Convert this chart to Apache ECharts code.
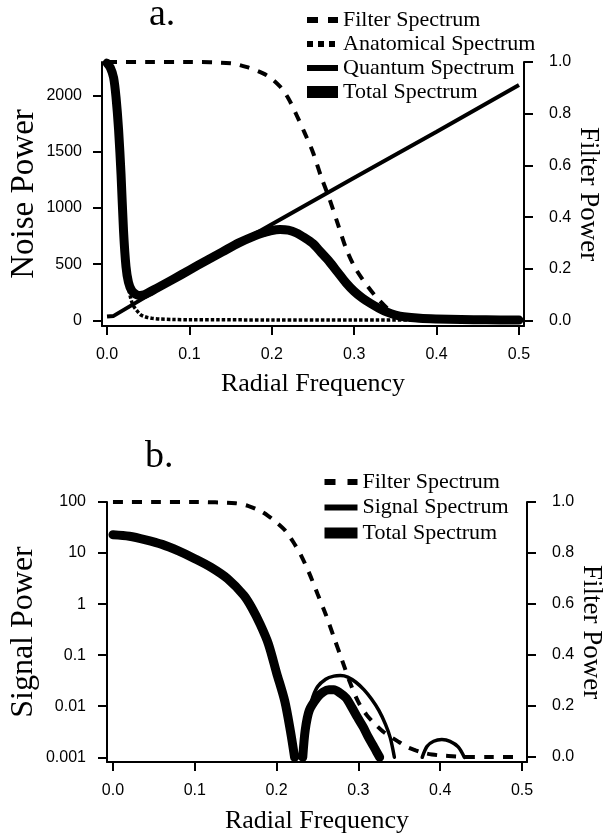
<!DOCTYPE html>
<html>
<head>
<meta charset="utf-8">
<script src="https://cdn.jsdelivr.net/npm/echarts@6.0.0/dist/echarts.min.js"></script>
<style>
  html, body { margin: 0; padding: 0; background: #fff; }
  #main { width: 605px; height: 840px; }
</style>
</head>
<body>
<div id="main"></div>
<script>
// ---- panel a : noise power spectra ----
var freqFilterA = [0, 0.05, 0.1, 0.15, 0.17, 0.19, 0.2, 0.21, 0.22, 0.23, 0.24, 0.25, 0.26, 0.27, 0.28, 0.29, 0.3, 0.31, 0.32, 0.33, 0.34, 0.35, 0.36, 0.37, 0.38, 0.4, 0.45, 0.5];
var filterA = [1, 1, 1, 0.995, 0.98, 0.955, 0.935, 0.905, 0.86, 0.795, 0.725, 0.65, 0.555, 0.47, 0.375, 0.28, 0.21, 0.16, 0.117, 0.08, 0.048, 0.022, 0.008, 0.003, 0.001, 0, 0, 0];

var freqAnatA = [0, 0.004, 0.008, 0.011, 0.014, 0.017, 0.02, 0.023, 0.026, 0.029, 0.032, 0.036, 0.04, 0.044, 0.048, 0.055, 0.064, 0.08, 0.1, 0.2, 0.3, 0.4, 0.5];
var anatA = [2260, 2215, 2125, 1940, 1660, 1260, 760, 440, 300, 190, 130, 89, 55, 38, 28, 18, 12, 8, 6, 4, 3, 3, 2];

var freqQuantA = [0, 0.008, 0.1, 0.2, 0.3, 0.4, 0.5];
var quantA = [35, 40, 440, 855, 1270, 1680, 2095];

var freqTotalA = [0, 0.004, 0.008, 0.011, 0.014, 0.017, 0.02, 0.023, 0.026, 0.03, 0.035, 0.04, 0.045, 0.05, 0.06, 0.08, 0.1, 0.12, 0.14, 0.16, 0.18, 0.19, 0.2, 0.21, 0.22, 0.23, 0.24, 0.25, 0.26, 0.27, 0.28, 0.29, 0.3, 0.31, 0.32, 0.33, 0.34, 0.35, 0.36, 0.38, 0.4, 0.43, 0.46, 0.5];
var totalA = [2290, 2250, 2160, 1980, 1700, 1300, 800, 480, 340, 265, 232, 222, 228, 245, 285, 365, 448, 530, 610, 690, 755, 780, 800, 808, 803, 778, 735, 683, 603, 522, 428, 335, 258, 198, 150, 108, 73, 48, 32, 18, 12, 7, 5, 3];

// ---- panel b : signal power spectra (left axis is log scale) ----
var freqFilterB = [0, 0.05, 0.1, 0.15, 0.165, 0.18, 0.19, 0.2, 0.21, 0.22, 0.23, 0.24, 0.25, 0.26, 0.27, 0.28, 0.29, 0.3, 0.31, 0.32, 0.33, 0.34, 0.35, 0.36, 0.37, 0.38, 0.39, 0.4, 0.41, 0.42, 0.43, 0.46, 0.49];
var filterB = [1, 1, 1, 0.995, 0.985, 0.965, 0.945, 0.92, 0.89, 0.845, 0.79, 0.72, 0.64, 0.56, 0.47, 0.38, 0.29, 0.215, 0.165, 0.13, 0.1, 0.078, 0.058, 0.038, 0.026, 0.016, 0.01, 0.006, 0.004, 0.002, 0, 0, 0];

var freqSignalB = [0, 0.02, 0.04, 0.06, 0.08, 0.1, 0.12, 0.14, 0.16, 0.17, 0.18, 0.19, 0.2, 0.21, 0.217, 0.222, 0.227,
    0.232, 0.236, 0.243, 0.25, 0.26, 0.27, 0.278, 0.287, 0.297, 0.307, 0.316, 0.325, 0.333, 0.339, 0.344, 0.36,
    0.378, 0.384, 0.392, 0.402, 0.412, 0.422, 0.4295];
var signalB = [22.9, 21.4, 18.2, 14.8, 11.0, 7.76, 5.25, 3.16, 1.5, 0.85, 0.42, 0.176, 0.049, 0.0142, 0.0037, 0.001, null,
    0.001, 0.0042, 0.013, 0.024, 0.0339, 0.0389, 0.0398, 0.0372, 0.0295, 0.0209, 0.0138, 0.0083, 0.00447, 0.0024, 0.001, null,
    0.001, 0.00164, 0.00206, 0.00222, 0.00206, 0.0016, 0.001];

var freqTotalB = [0, 0.02, 0.04, 0.06, 0.08, 0.1, 0.12, 0.14, 0.16, 0.17, 0.18, 0.19, 0.2, 0.21, 0.217, 0.222, 0.227,
    0.232, 0.235, 0.24, 0.25, 0.257, 0.264, 0.27, 0.278, 0.285, 0.292, 0.299, 0.306, 0.312, 0.318, 0.322, 0.326];
var totalB = [22.9, 21.4, 18.2, 14.8, 11.0, 7.76, 5.25, 3.16, 1.48, 0.83, 0.40, 0.166, 0.045, 0.0126, 0.0032, 0.001, null,
    0.001, 0.0034, 0.0083, 0.015, 0.019, 0.021, 0.021, 0.018, 0.0145, 0.0095, 0.006, 0.0039, 0.0025, 0.0017, 0.0013, 0.001];

// tick values
var freqTicks = [0, 0.1, 0.2, 0.3, 0.4, 0.5];
var noiseTicks = [0, 500, 1000, 1500, 2000];
var filterTicks = [0, 0.2, 0.4, 0.6, 0.8, 1.0];
var signalTicks = [0.001, 0.01, 0.1, 1, 10, 100];

var serif = 'Liberation Serif';
var sans = 'Liberation Sans';

function pairs(xs, ys) {
    return xs.map(function (x, i) { return [x, ys[i] == null ? '-' : ys[i]]; });
}
function logPairs(xs, ys) {
    return xs.map(function (x, i) { return [x, ys[i] == null ? '-' : Math.log10(ys[i])]; });
}
var logTicks = signalTicks.map(function (v) { return Math.log10(v); });

function axis(extra) {
    var base = {
        type: 'value',
        splitLine: { show: false },
        axisLine: { show: true, onZero: false, lineStyle: { color: '#000', width: 2 } },
        axisTick: { show: true, length: 9, lineStyle: { color: '#000', width: 2 } },
        axisLabel: { color: '#000', fontFamily: sans, fontSize: 16 },
        nameTextStyle: { color: '#000', fontFamily: serif, fontSize: 26 },
        nameLocation: 'middle',
        nameMoveOverlap: false
    };
    for (var k in extra) {
        if (typeof extra[k] === 'object' && base[k] && !Array.isArray(extra[k])) {
            base[k] = Object.assign({}, base[k], extra[k]);
        } else {
            base[k] = extra[k];
        }
    }
    return base;
}
function fixed1(v) { return v.toFixed(1); }

var myChart = echarts.init(document.getElementById('main'));

var option = {
    animation: false,
    backgroundColor: '#fff',
    title: [
        { text: 'a.', left: 149, top: -4, padding: 0, textStyle: { fontFamily: serif, fontSize: 38, fontWeight: 'normal', color: '#000' } },
        { text: 'b.', left: 145, top: 438, padding: 0, textStyle: { fontFamily: serif, fontSize: 38, fontWeight: 'normal', color: '#000' } }
    ],
    legend: [
        {
            left: 301, top: 9, orient: 'vertical', selectedMode: false,
            itemWidth: 31, itemHeight: 14, itemGap: 2, padding: 0,
            textStyle: { fontFamily: serif, fontSize: 22, color: '#000' },
            data: [
                { name: 'Filter Spectrum', itemStyle: { opacity: 0 }, lineStyle: { width: 6, type: [11, 10], cap: 'butt' } },
                { name: 'Anatomical Spectrum', itemStyle: { opacity: 0 }, lineStyle: { width: 6, type: [6, 5], cap: 'butt' } },
                { name: 'Quantum Spectrum', itemStyle: { opacity: 0 }, lineStyle: { width: 6, type: 'solid', cap: 'butt' } },
                { name: 'Total Spectrum', itemStyle: { opacity: 0 }, lineStyle: { width: 12, type: 'solid', cap: 'butt' } }
            ]
        },
        {
            left: 319, top: 471, orient: 'vertical', selectedMode: false,
            itemWidth: 33, itemHeight: 14, itemGap: 3.5, padding: 0,
            textStyle: { fontFamily: serif, fontSize: 22, color: '#000' },
            data: [
                { name: 'Filter Spectrum', itemStyle: { opacity: 0 }, lineStyle: { width: 6, type: [11, 12], cap: 'butt' } },
                { name: 'Signal Spectrum', itemStyle: { opacity: 0 }, lineStyle: { width: 6, type: 'solid', cap: 'butt' } },
                { name: 'Total Spectrum', itemStyle: { opacity: 0 }, lineStyle: { width: 11, type: 'solid', cap: 'butt' } }
            ]
        }
    ],
    grid: [
        { left: 102, right: 81, top: 62, height: 264, outerBoundsMode: 'none' },
        { left: 107, right: 78, top: 502, height: 260, outerBoundsMode: 'none' }
    ],
    xAxis: [
        axis({
            gridIndex: 0, min: -0.0061, max: 0.5061,
            name: 'Radial Frequency', nameGap: 45,
            axisTick: { customValues: freqTicks },
            axisLabel: { customValues: freqTicks, margin: 21, formatter: fixed1 }
        }),
        axis({
            gridIndex: 1, min: -0.0073, max: 0.5061,
            name: 'Radial Frequency', nameGap: 46,
            axisTick: { customValues: freqTicks },
            axisLabel: { customValues: freqTicks, margin: 21, formatter: fixed1 }
        })
    ],
    yAxis: [
        axis({
            gridIndex: 0, position: 'left', min: -50, max: 2300,
            name: 'Noise Power', nameGap: 61,
            nameTextStyle: { fontSize: 33 },
            axisTick: { customValues: noiseTicks },
            axisLabel: { customValues: noiseTicks, margin: 20, formatter: function (v) { return String(v); } }
        }),
        axis({
            gridIndex: 0, position: 'right', min: -0.021, max: 1.0,
            name: 'Filter Power', nameGap: 51, nameRotate: -90,
            nameTextStyle: { fontSize: 27 },
            axisTick: { customValues: filterTicks },
            axisLabel: { customValues: filterTicks, margin: 25, formatter: fixed1 }
        }),
        axis({
            gridIndex: 1, position: 'left', min: -3.092, max: 2,
            name: 'Signal Power', nameGap: 67,
            nameTextStyle: { fontSize: 32 },
            axisTick: { customValues: logTicks },
            axisLabel: {
                customValues: logTicks, margin: 21,
                formatter: function (v) {
                    var p = Math.round(v);
                    return p >= 0 ? String(Math.pow(10, p)) : Math.pow(10, p).toFixed(-p);
                }
            }
        }),
        axis({
            gridIndex: 1, position: 'right', min: -0.0197, max: 1.0,
            name: 'Filter Power', nameGap: 51, nameRotate: -90,
            nameTextStyle: { fontSize: 27 },
            axisTick: { customValues: filterTicks },
            axisLabel: { customValues: filterTicks, margin: 25, formatter: fixed1 }
        })
    ],
    series: [
        {
            name: 'Filter Spectrum', type: 'line', xAxisIndex: 0, yAxisIndex: 1,
            data: pairs(freqFilterA, filterA), symbol: 'none', clip: false, smooth: 0.3,
            lineStyle: { color: '#000', width: 4, type: [10, 9] }
        },
        {
            name: 'Anatomical Spectrum', type: 'line', xAxisIndex: 0, yAxisIndex: 0,
            data: pairs(freqAnatA, anatA), symbol: 'none', clip: false, smooth: 0.3,
            lineStyle: { color: '#000', width: 3.5, type: [3.5, 2] }
        },
        {
            name: 'Quantum Spectrum', type: 'line', xAxisIndex: 0, yAxisIndex: 0,
            data: pairs(freqQuantA, quantA), symbol: 'none', clip: false,
            lineStyle: { color: '#000', width: 4 }
        },
        {
            name: 'Total Spectrum', type: 'line', xAxisIndex: 0, yAxisIndex: 0,
            data: pairs(freqTotalA, totalA), symbol: 'none', clip: false, smooth: 0.3,
            lineStyle: { color: '#000', width: 9, cap: 'round', join: 'round' }
        },
        {
            name: 'Filter Spectrum', type: 'line', xAxisIndex: 1, yAxisIndex: 3,
            data: pairs(freqFilterB, filterB), symbol: 'none', clip: false, smooth: 0.3,
            lineStyle: { color: '#000', width: 4, type: [10, 9] }
        },
        {
            name: 'Signal Spectrum', type: 'line', xAxisIndex: 1, yAxisIndex: 2,
            data: logPairs(freqSignalB, signalB), symbol: 'none', clip: false, smooth: 0.3,
            lineStyle: { color: '#000', width: 3.5, cap: 'round', join: 'round' }
        },
        {
            name: 'Total Spectrum', type: 'line', xAxisIndex: 1, yAxisIndex: 2,
            data: logPairs(freqTotalB, totalB), symbol: 'none', clip: false, smooth: 0.3,
            lineStyle: { color: '#000', width: 9, cap: 'round', join: 'round' }
        }
    ]
};

myChart.setOption(option);
</script>
</body>
</html>
